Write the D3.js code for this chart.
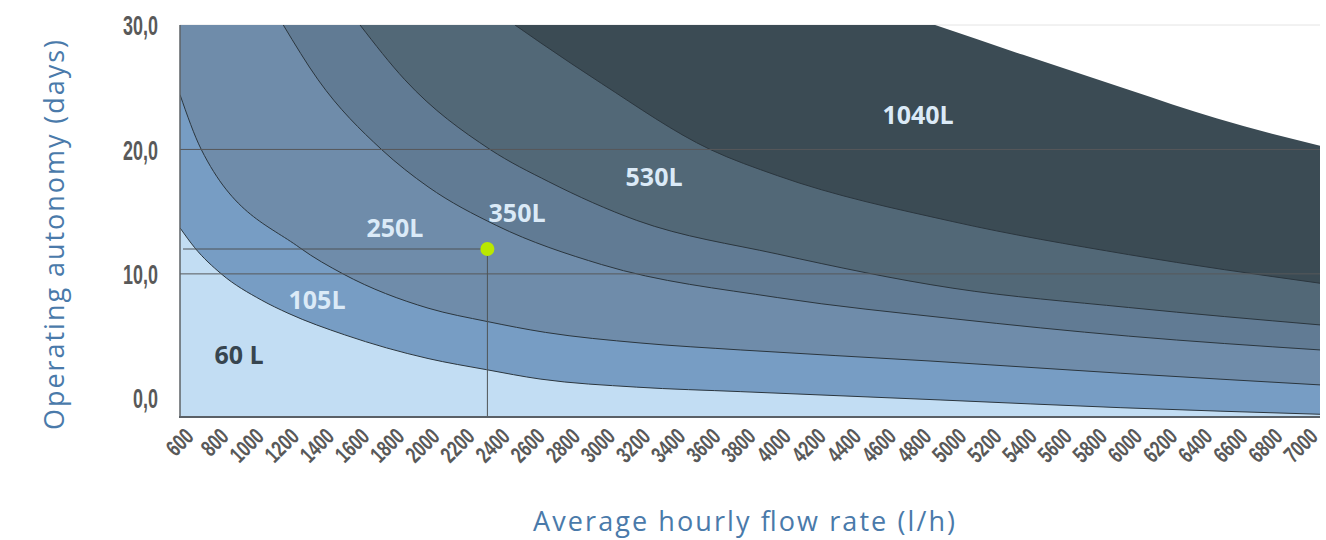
<!DOCTYPE html>
<html>
<head>
<meta charset="utf-8">
<script src="https://cdn.jsdelivr.net/npm/d3@7"></script>
<style>
  body { margin:0; padding:0; background:#fff; }
  .tick { font-family:'Liberation Sans',Arial,sans-serif; font-weight:bold; fill:#595959; }
  .title { font-family:'Open Sans','Noto Sans',sans-serif; fill:#4a7aaa; font-size:27px; }
  .tank { font-family:'Open Sans','Noto Sans',sans-serif; font-weight:700; font-size:25px; }
</style>
</head>
<body>
<script>
var width = 1326, height = 540;

// axis ticks
var flowTicks = [600, 800, 1000, 1200, 1400, 1600, 1800, 2000, 2200, 2400, 2600, 2800, 3000, 3200, 3400, 3600,
                 3800, 4000, 4200, 4400, 4600, 4800, 5000, 5200, 5400, 5600, 5800, 6000, 6200, 6400, 6600, 6800, 7000];
var dayTicks = [0, 10, 20, 30];

// plotted range (flow runs a bit past 7000, days start a bit under 0)
var flowMin = 600, flowMax = 7090;
var dayMin = -1.5, dayMax = 30;

// tank curves: flow (l/h) -> autonomy (days)
var flow60 = [600, 684, 835, 1063, 1215, 1538, 2012, 2346, 2650, 3200, 3789, 4927, 5952, 7090];
var days60 = [13.7, 12.1, 10.0, 7.9, 6.84, 5.1, 3.2, 2.3, 1.55, 0.9, 0.54, -0.13, -0.75, -1.28];

var flow105 = [600, 721, 1282, 1528, 2012, 2350, 2680, 3219, 3789, 4870, 5952, 7090];
var days105 = [24.4, 20.0, 12.1, 10.0, 7.25, 6.17, 5.3, 4.45, 3.89, 3.0, 2.02, 1.08];

var flow250 = [1188, 1386, 1747, 2012, 2400, 3000, 4000, 5000, 6000, 7090];
var days250 = [30, 25.6, 20.0, 17.0, 13.9, 10.75, 8.1, 6.4, 5.0, 3.89];

var flow350 = [1625, 1880, 2365, 2700, 3200, 4000, 5000, 6000, 7090];
var days350 = [30, 25.6, 20.0, 17.4, 14.3, 11.6, 8.85, 7.3, 5.9];

var flow530 = [2507, 2650, 3000, 3618, 4000, 5000, 6000, 7090];
var days530 = [30, 28.6, 25.3, 20.0, 17.9, 14.2, 11.55, 9.25];

var flow1040 = [4899, 5400, 6000, 6500, 7090];
var days1040 = [30, 27.6, 24.8, 22.5, 20.3];

// example reading marked on the chart
var pointFlow = 2350, pointDays = 12.0;

// labels sitting inside each band
var tankNames = ["60 L", "105L", "250L", "350L", "530L", "1040L"];
var labelFlow = [936, 1380, 1824, 2519, 3299, 4802];
var labelDays = [3.5, 7.9, 13.7, 14.9, 17.8, 22.8];

var bandColors = ["#c2ddf3", "#779dc4", "#6f8caa", "#617b94", "#526877", "#3b4b54"];
var labelColors = ["#37454f", "#dbeaf7", "#dbeaf7", "#dbeaf7", "#dbeaf7", "#dbeaf7"];

var tanks = [
  {flows: flow60, days: days60},
  {flows: flow105, days: days105},
  {flows: flow250, days: days250},
  {flows: flow350, days: days350},
  {flows: flow530, days: days530},
  {flows: flow1040, days: days1040}
];

var svg = d3.select("body").append("svg")
  .attr("width", width)
  .attr("height", height);

var x = d3.scaleLinear().domain([flowMin, flowMax]).range([180, 1320]);
var y = d3.scaleLinear().domain([dayMin, dayMax]).range([417, 25]);

svg.append("clipPath").attr("id", "plot")
  .append("rect")
  .attr("x", x(flowMin)).attr("y", y(dayMax))
  .attr("width", x(flowMax) - x(flowMin)).attr("height", y(dayMin) - y(dayMax));

// faint top line
svg.append("line")
  .attr("x1", x(flowMin)).attr("x2", x(flowMax))
  .attr("y1", y(dayMax)).attr("y2", y(dayMax))
  .attr("stroke", "#e4e4e4").attr("stroke-width", 1);

var curve = d3.line().curve(d3.curveMonotoneX);

function points(t) {
  return t.flows.map(function(f, i) { return [x(f), y(t.days[i])]; });
}

function bandPath(t) {
  var p = "M" + x(flowMin) + "," + y(dayMin);
  if (t.flows[0] > flowMin) p += "L" + x(flowMin) + "," + y(dayMax);
  p += curve(points(t)).replace(/^M/, "L");
  p += "L" + x(flowMax) + "," + y(dayMin) + "Z";
  return p;
}

var plot = svg.append("g").attr("clip-path", "url(#plot)");

// biggest tank first, smaller ones stacked on top
for (var i = tanks.length - 1; i >= 0; i--) {
  plot.append("path")
    .attr("d", bandPath(tanks[i]))
    .attr("fill", bandColors[i]);
  if (i < tanks.length - 1) {
    plot.append("path")
      .attr("d", curve(points(tanks[i])))
      .attr("fill", "none")
      .attr("stroke", "#2b363e")
      .attr("stroke-width", 1);
  }
}

// grid lines at 10 and 20
svg.selectAll("line.grid")
  .data(dayTicks.filter(function(d) { return d > 0 && d < dayMax; }))
  .enter().append("line")
  .attr("class", "grid")
  .attr("x1", x(flowMin)).attr("x2", x(flowMax))
  .attr("y1", function(d) { return y(d); })
  .attr("y2", function(d) { return y(d); })
  .attr("stroke", "#57585a").attr("stroke-width", 1);

// reading lines and marker
svg.append("line")
  .attr("x1", x(flowMin) + 3).attr("x2", x(pointFlow))
  .attr("y1", y(pointDays)).attr("y2", y(pointDays))
  .attr("stroke", "#4e5356").attr("stroke-width", 1);
svg.append("line")
  .attr("x1", x(pointFlow)).attr("x2", x(pointFlow))
  .attr("y1", y(pointDays)).attr("y2", y(dayMin))
  .attr("stroke", "#4e5356").attr("stroke-width", 1);
svg.append("circle")
  .attr("cx", x(pointFlow)).attr("cy", y(pointDays))
  .attr("r", 7)
  .attr("fill", "#b9e800");

// band labels
svg.selectAll("text.tank")
  .data(tankNames)
  .enter().append("text")
  .attr("class", "tank")
  .attr("x", function(d, i) { return x(labelFlow[i]); })
  .attr("y", function(d, i) { return y(labelDays[i]); })
  .attr("dy", "0.36em")
  .attr("text-anchor", "middle")
  .attr("fill", function(d, i) { return labelColors[i]; })
  .text(function(d) { return d; });

// axis lines
svg.append("line")
  .attr("x1", x(flowMin)).attr("x2", x(flowMin))
  .attr("y1", y(dayMax)).attr("y2", y(dayMin))
  .attr("stroke", "#5d6266").attr("stroke-width", 1.5);
svg.append("line")
  .attr("x1", x(flowMin) - 1).attr("x2", x(flowMax))
  .attr("y1", y(dayMin)).attr("y2", y(dayMin))
  .attr("stroke", "#5a6066").attr("stroke-width", 2);

// y tick labels (narrow bold look)
svg.selectAll("text.ytick")
  .data(dayTicks)
  .enter().append("text")
  .attr("class", "tick ytick")
  .attr("text-anchor", "end")
  .attr("dy", "0.36em")
  .attr("transform", function(d) { return "translate(158," + y(d) + ") scale(0.64,1)"; })
  .style("font-size", "28px")
  .text(function(d) { return d3.format(".1f")(d).replace(".", ","); });

// x tick labels, slanted
svg.selectAll("text.xtick")
  .data(flowTicks)
  .enter().append("text")
  .attr("class", "tick xtick")
  .attr("text-anchor", "end")
  .attr("transform", function(d) { return "translate(" + (x(d) + 15) + ",438) rotate(-45) scale(0.72,1)"; })
  .style("font-size", "23px")
  .text(function(d) { return d; });

// axis titles
svg.append("text")
  .attr("class", "title")
  .attr("text-anchor", "middle")
  .attr("transform", "translate(64,235) rotate(-90)")
  .attr("textLength", 390)
  .attr("lengthAdjust", "spacing")
  .text("Operating autonomy (days)");
svg.append("text")
  .attr("class", "title")
  .attr("text-anchor", "middle")
  .attr("x", 744).attr("y", 531)
  .attr("textLength", 422)
  .attr("lengthAdjust", "spacing")
  .text("Average hourly flow rate (l/h)");
</script>
</body>
</html>
